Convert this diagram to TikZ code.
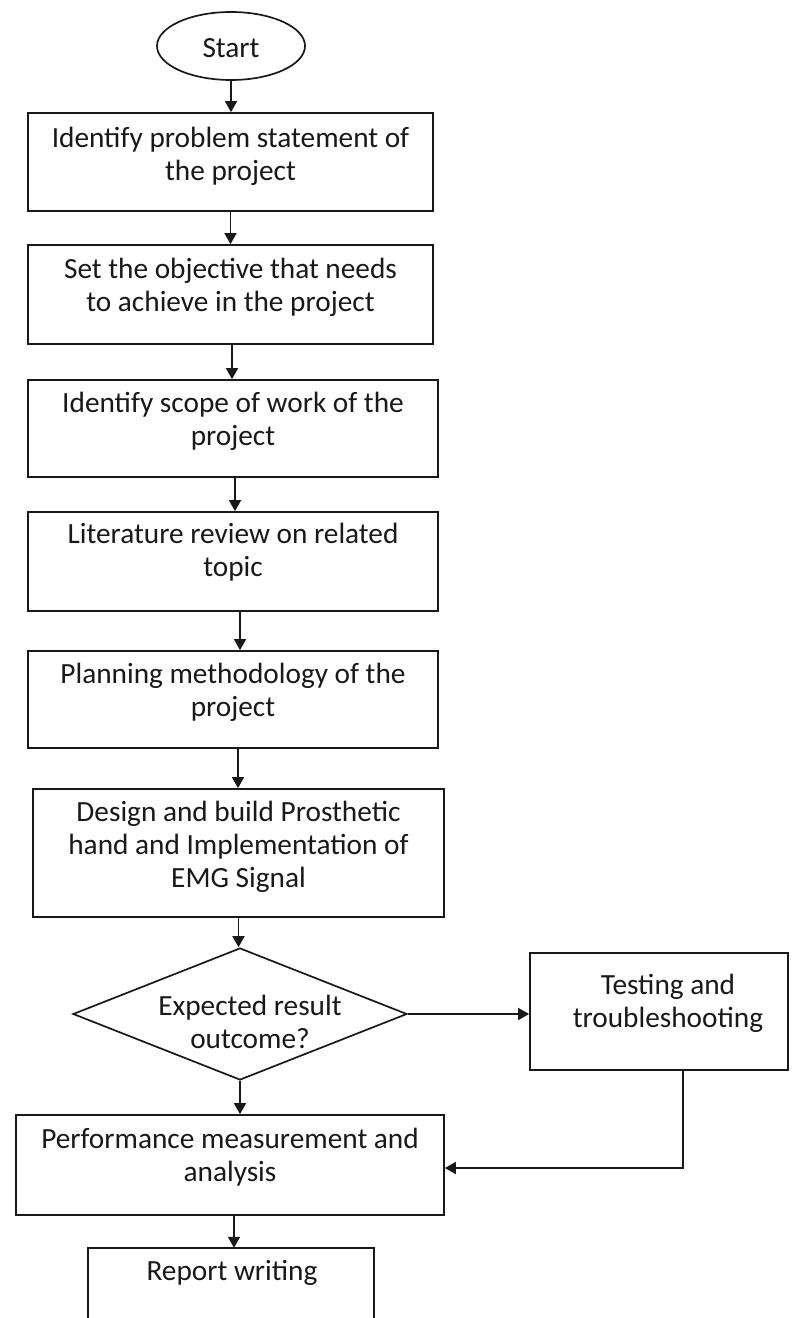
\documentclass[tikz,border=0pt]{standalone}
\usepackage{fontspec}
\setmainfont{Carlito}
\usetikzlibrary{shapes.geometric,arrows.meta}
\begin{document}
\begin{tikzpicture}[x=1bp,y=-1bp,
  outline/.style={draw=black!90,line width=1.7bp,fill=white,inner sep=0pt},
  txt/.style={align=center,font=\fontsize{29.3bp}{33bp}\selectfont,text=black!90,inner sep=0pt},
  arr/.style={draw=black!90,line width=1.7bp,-{Triangle[width=12bp,length=11bp]}}]
\useasboundingbox (0,0) rectangle (791,1318);
% shapes
\node[outline,ellipse,minimum width=148bp,minimum height=68bp] (start) at (231,46) {};
\node[outline,rectangle,minimum width=405bp,minimum height=98bp] (b1) at (230.5,162) {};
\node[outline,rectangle,minimum width=405bp,minimum height=99bp] (b2) at (230.5,294.5) {};
\node[outline,rectangle,minimum width=410bp,minimum height=97bp] (b3) at (233,428.5) {};
\node[outline,rectangle,minimum width=410bp,minimum height=99bp] (b4) at (233,561.5) {};
\node[outline,rectangle,minimum width=410bp,minimum height=97bp] (b5) at (233,699.5) {};
\node[outline,rectangle,minimum width=411bp,minimum height=128bp] (b6) at (238.5,853) {};
\node[outline,diamond,aspect=2.53,minimum width=334bp,minimum height=132bp] (dec) at (240,1014) {};
\node[outline,rectangle,minimum width=258bp,minimum height=117bp] (test) at (659,1011.5) {};
\node[outline,rectangle,minimum width=428bp,minimum height=100bp] (perf) at (230,1165) {};
\node[inner sep=0pt,minimum width=286bp,minimum height=70bp] (rep) at (231,1283) {};
\draw[draw=black!90,line width=1.7bp] (rep.south west) -- (rep.north west) -- (rep.north east) -- (rep.south east);
% texts
\node[txt] (tstart) at ([yshift=-2bp]start.center) {Start};
\node[txt] (t1) at ([yshift=6bp]b1.center) {Identify problem statement of\\the project};
\node[txt] (t2) at ([yshift=7bp]b2.center) {Set the objective that needs\\to achieve in the project};
\node[txt] (t3) at ([yshift=7bp]b3.center) {Identify scope of work of the\\project};
\node[txt] (t4) at ([yshift=9bp]b4.center) {Literature review on related\\topic};
\node[txt] (t5) at ([yshift=7bp]b5.center) {Planning methodology of the\\project};
\node[txt] (t6) at ([yshift=6bp]b6.center) {Design and build Prosthetic\\hand and Implementation of\\EMG Signal};
\node[txt] (tdec) at ([xshift=10bp,yshift=-8bp]dec.center) {Expected result\\outcome?};
\node[txt] (ttest) at ([xshift=9bp,yshift=8bp]test.center) {Testing and\\troubleshooting};
\node[txt] (tperf) at ([yshift=7.5bp]perf.center) {Performance measurement and\\analysis};
\node[txt] (trep) at (232,1273) {Report writing};
% connectors
\draw[arr] (start.south) -- (start.south |- b1.north);
\draw[arr] (b1.south) -- (b1.south |- b2.north);
\draw[arr] ([xshift=1.5bp]b2.south) -- ([xshift=1.5bp]b2.south |- b3.north);
\draw[arr] ([xshift=2bp]b3.south) -- ([xshift=2bp]b3.south |- b4.north);
\draw[arr] ([xshift=7bp]b4.south) -- ([xshift=7bp]b4.south |- b5.north);
\draw[arr] ([xshift=5bp]b5.south) -- ([xshift=5bp]b5.south |- b6.north);
\draw[arr] (b6.south) -- (b6.south |- dec.north);
\draw[arr] (dec.east) -- (dec.east -| test.west);
\draw[arr] (dec.south) -- (dec.south |- perf.north);
\draw[arr] ([xshift=24bp]test.south) |- ([yshift=-3bp]perf.east);
\draw[arr] ([xshift=4bp]perf.south) -- ([xshift=4bp]perf.south |- rep.north);
\end{tikzpicture}
\end{document}
